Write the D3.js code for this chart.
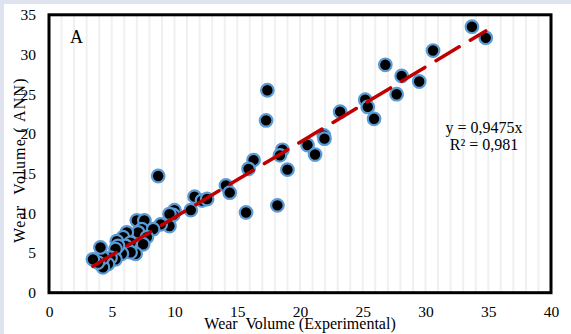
<!DOCTYPE html>
<html>
<head>
<meta charset="utf-8">
<script src="https://cdnjs.cloudflare.com/ajax/libs/d3/7.8.5/d3.min.js"></script>
<style>
  body { margin: 0; padding: 0; }
  svg { display: block; }
  text { font-family: "Liberation Serif", "Times New Roman", serif; fill: #000; }
</style>
</head>
<body>
<div id="cnv"></div>
<script>
var width = 571,
    height = 334;

// experimental vs ANN wear volume
var expVals = [33.7, 34.8, 30.6, 26.8, 28.1, 29.5, 27.7,
  25.2, 25.4, 25.9, 23.2, 21.9, 21.95, 20.6, 21.2,
  18.6, 18.4, 19.0, 16.3, 15.9, 17.4, 17.3, 15.7, 18.2,
  14.1, 14.4, 11.6, 12.2, 12.6, 11.3, 10.0, 9.9, 9.6, 9.6, 8.7, 8.9,
  7.0, 7.6, 7.4, 8.3, 7.1, 7.8, 7.5, 6.2, 5.9, 6.5, 6.1, 6.9, 6.5, 5.8,
  5.4, 5.5, 5.3, 5.3, 4.9, 4.7, 4.3, 4.3, 3.9, 4.1, 3.5];
var annVals = [33.5, 32.1, 30.5, 28.7, 27.3, 26.6, 25.0,
  24.3, 23.4, 21.9, 22.8, 19.8, 19.4, 18.6, 17.4,
  18.0, 17.3, 15.5, 16.7, 15.6, 25.5, 21.7, 10.1, 11.0,
  13.5, 12.6, 12.1, 11.6, 11.8, 10.4, 10.4, 9.8, 9.9, 8.4, 14.7, 8.6,
  9.1, 9.1, 8.0, 8.0, 7.6, 7.0, 6.1, 7.6, 7.0, 6.3, 5.9, 4.9, 5.1, 4.9,
  6.5, 5.9, 5.5, 4.2, 4.4, 3.6, 3.2, 4.4, 3.8, 5.7, 4.2];

var xTicks = [0, 5, 10, 15, 20, 25, 30, 35, 40],
    yTicks = [0, 5, 10, 15, 20, 25, 30, 35];
var slope = 0.9475,
    trendRange = [3.5, 34.8];
var eqLines = ["y = 0,9475x", "R\u00b2 = 0,981"];

var points = expVals.map(function(d, i) { return {x: d, y: annVals[i]}; });

var margin = {top: 14.8, right: 20, bottom: 41.3, left: 49},
    graphWidth = width - margin.left - margin.right,
    graphHeight = height - margin.top - margin.bottom;

var svg = d3.select("#cnv").append("svg")
  .attr("width", width)
  .attr("height", height);

// page background with thin tinted edge
svg.append("rect")
  .attr("width", width).attr("height", height)
  .attr("fill", "#dfe3ef");
svg.append("rect")
  .attr("x", 4).attr("y", 4)
  .attr("width", width - 4).attr("height", height - 4)
  .attr("fill", "#fff");

var g = svg.append("g")
  .attr("transform", "translate(" + margin.left + "," + margin.top + ")");

var xScale = d3.scaleLinear().domain([0, 40]).range([0, graphWidth]);
var yScale = d3.scaleLinear().domain([0, 35]).range([graphHeight, 0]);

// vertical gridlines every unit
g.append("g")
  .selectAll("line")
  .data(d3.range(1, 40))
  .enter().append("line")
    .attr("x1", function(d) { return xScale(d); })
    .attr("x2", function(d) { return xScale(d); })
    .attr("y1", 0)
    .attr("y2", graphHeight)
    .attr("stroke", "#f0f0f0")
    .attr("stroke-width", 2);

// axes (labels only)
var xAxis = g.append("g")
  .attr("transform", "translate(0," + graphHeight + ")")
  .call(d3.axisBottom(xScale).tickValues(xTicks).tickSize(0).tickPadding(13.5));
xAxis.select(".domain").remove();
xAxis.selectAll("text").style("font-size", "15.5px").style("font-family", "Liberation Serif");

var yAxis = g.append("g")
  .call(d3.axisLeft(yScale).tickValues(yTicks).tickSize(0).tickPadding(13));
yAxis.select(".domain").remove();
yAxis.selectAll("text").style("font-size", "15.5px").style("font-family", "Liberation Serif");

function trend(sel) {
  sel.append("line")
    .attr("x1", xScale(trendRange[0]))
    .attr("y1", yScale(slope * trendRange[0]))
    .attr("x2", xScale(trendRange[1]))
    .attr("y2", yScale(slope * trendRange[1]))
    .attr("stroke", "#c00000")
    .attr("stroke-width", 3.5)
    .attr("stroke-linecap", "round")
    .attr("stroke-dasharray", "27,13");
}

// points
g.selectAll("circle")
  .data(points)
  .enter().append("circle")
    .attr("cx", function(d) { return xScale(d.x); })
    .attr("cy", function(d) { return yScale(d.y); })
    .attr("r", 6.3)
    .attr("fill", "#000")
    .attr("stroke", "#5b9bd5")
    .attr("stroke-width", 2.2);

// trendline on top of markers
trend(g);

// frame
g.append("rect")
  .attr("width", graphWidth)
  .attr("height", graphHeight)
  .attr("fill", "none")
  .attr("stroke", "#000")
  .attr("stroke-width", 3);

// panel letter
svg.append("text")
  .attr("x", 70).attr("y", 43)
  .style("font-size", "18px")
  .text("A");

// equation
svg.selectAll(".eq")
  .data(eqLines)
  .enter().append("text")
    .attr("class", "eq")
    .attr("x", 484)
    .attr("y", function(d, i) { return 133 + i * 17; })
    .attr("text-anchor", "middle")
    .style("font-size", "16px")
    .text(function(d) { return d; });

// axis titles
svg.append("text")
  .attr("text-anchor", "middle")
  .attr("transform", "translate(" + (margin.left + graphWidth / 2) + "," + 329 + ")")
  .style("font-size", "16px")
  .text("Wear\u00a0 Volume (Experimental)");
svg.append("text")
  .attr("text-anchor", "middle")
  .attr("transform", "translate(" + 25 + "," + 160 + "), rotate(-90)")
  .style("font-size", "16px")
  .style("letter-spacing", "1.2px")
  .text("Wear\u00a0 Volume ( ANN)");
</script>
</body>
</html>
